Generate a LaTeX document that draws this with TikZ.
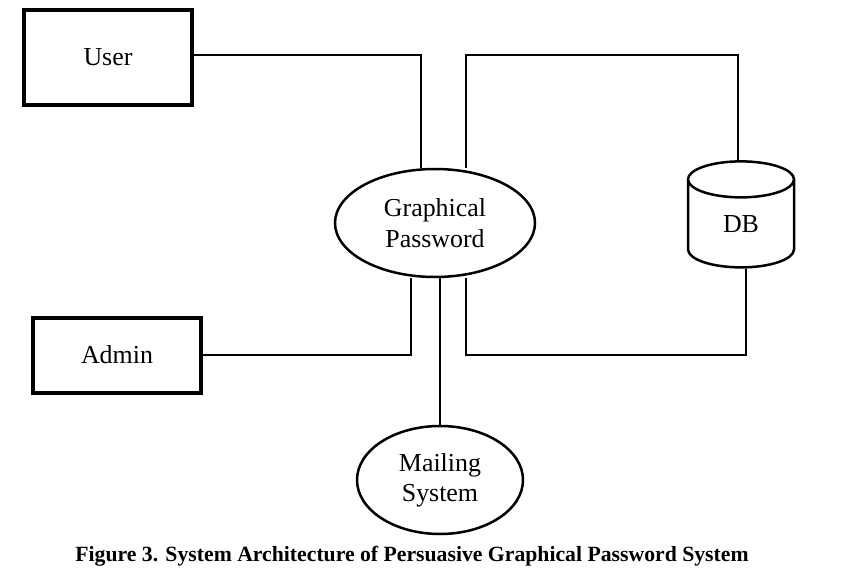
\documentclass[tikz,border=0pt]{standalone}
\usepackage{fontspec}
\setmainfont{Liberation Serif}
\usetikzlibrary{shapes.geometric}

\begin{document}
\begin{tikzpicture}[
    x=1bp, y=-1bp,
    actor/.style={draw, rectangle, line width=4bp, inner sep=0pt, font=\fontsize{26}{30.5}\selectfont},
    process/.style={draw, ellipse, line width=2.5bp, inner sep=0pt, align=center, font=\fontsize{26}{30.5}\selectfont},
    store/.style={draw, cylinder, shape border rotate=90, aspect=1.0, line width=2.5bp, inner sep=0pt, font=\fontsize{26}{30.5}\selectfont},
    link/.style={draw, line width=1.3bp}
]
    \useasboundingbox (0,0) rectangle (843,576);

    % Actors
    \node[actor, minimum width=168bp, minimum height=95bp] (user) at (108,57.5) {User};
    \node[actor, minimum width=168bp, minimum height=75bp] (admin) at (117,355) {Admin};

    % Processes
    \node[process, minimum width=200bp, minimum height=108bp] (gp) at (435,223) {Graphical\\Password};
    \node[process, minimum width=166bp, minimum height=108bp] (mail) at (440,480) {Mailing\\System};

    % Data store
    \node[store, minimum width=106bp, minimum height=106bp] (db) at (741,224) {DB};

    % Buses
    \coordinate (topbus) at (0,55);
    \coordinate (lowbus) at (0,355);

    % Connections
    \draw[link] (user.east |- topbus) -| ([xshift=-14bp]gp.north);
    \draw[link] ([xshift=31bp]gp.north) -- ([xshift=31bp]gp.north |- topbus) -| ([xshift=-3bp]db.top);
    \draw[link] (admin.east) -| ([xshift=-24bp]gp.south);
    \draw[link] (gp.south -| mail.north) -- (mail.north);
    \draw[link] ([xshift=31bp]gp.south) -- ([xshift=31bp]gp.south |- lowbus) -| ([xshift=5bp]db.bottom);

    % Caption
    \node[font=\fontsize{21.8}{24}\selectfont\bfseries] (caption) at (412,556) {Figure 3. System Architecture of Persuasive Graphical Password System};

\end{tikzpicture}
\end{document}
